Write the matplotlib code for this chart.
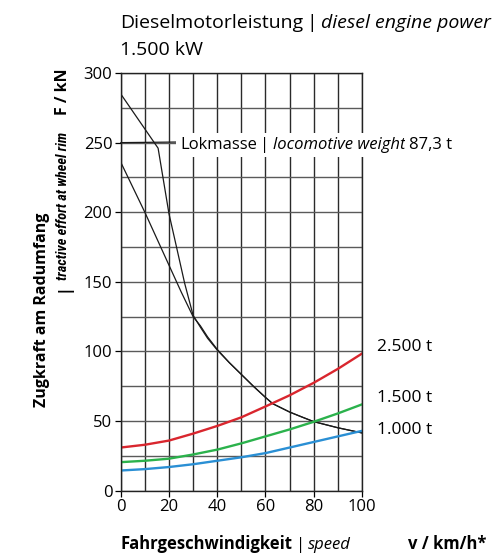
import matplotlib
matplotlib.use('Agg')
import matplotlib.pyplot as plt
from matplotlib import font_manager

plt.rcParams['font.family'] = 'Open Sans'

# Lokomotive: Zugkraft (zwei Kennlinien, laufen ab ca. 30 km/h zusammen)
loco_a_v = [0, 15.5, 20, 23, 26.5, 30, 33, 36, 40, 45, 50, 55, 60, 63, 70, 75, 80, 90, 100]
loco_a_f = [285, 246, 199, 176, 149, 126, 117.5, 109.5, 101, 92, 83.5, 75, 67, 62.5, 56.5, 53, 49.6, 45.2, 41.5]
loco_b_v = [0, 10, 20, 25, 30, 33, 36, 40, 45, 50, 55, 60, 63, 70, 75, 80, 90, 100]
loco_b_f = [236, 200, 162, 143, 125, 118.5, 110.5, 101.5, 92, 83.5, 75, 67, 62.5, 56.5, 53, 49.6, 45.2, 41.5]

# Zugwiderstand je Zuggewicht
speed = [0, 10, 20, 30, 40, 50, 60, 70, 80, 90, 100]
res_2500 = [31, 33, 36, 41, 46.5, 52.7, 60.5, 68.5, 77.5, 87.5, 98.5]
res_1500 = [20.5, 21.5, 23, 26, 29.5, 34, 39, 44, 49.5, 55.5, 62]
res_1000 = [14.5, 15.5, 17, 19, 21.5, 24, 27, 31, 35, 39, 43]
train_labels = ['2.500 t', '1.500 t', '1.000 t']
label_pos = [103, 66.6, 43.8]

x_ticks = [0, 20, 40, 60, 80, 100]
y_ticks = [0, 50, 100, 150, 200, 250, 300]

# schmale Schrift fuer den kursiven Teil der y-Beschriftung
names = {f.name for f in font_manager.fontManager.ttflist}
narrow = 'Open Sans'
for cand in ['Roboto Condensed', 'Open Sans Condensed', 'Asap Condensed',
             'Archivo Narrow', 'Barlow Condensed']:
    if cand in names:
        narrow = cand
        break

W, H = 498, 553
fig = plt.figure(figsize=(W / 100, H / 100), dpi=100)
ax = fig.add_axes([120.7 / W, 62.3 / H, 241.3 / W, 417.7 / H])

ax.set_xlim(0, 100)
ax.set_ylim(0, 300)
ax.set_xticks(x_ticks)
ax.set_xticks(range(10, 100, 20), minor=True)
ax.set_yticks(y_ticks)
ax.set_yticks(range(25, 300, 50), minor=True)
ax.tick_params(which='major', direction='out', length=4, width=0.9, labelsize=12, pad=2)
ax.tick_params(which='minor', length=0)
ax.grid(True, axis='x', which='both', color='#2a2a2a', linewidth=1.0)
ax.grid(True, axis='y', which='both', color='#5a5a5a', linewidth=1.0)
for sp in ax.spines.values():
    sp.set_linewidth(1.0)
    sp.set_color('#222222')

ax.plot(loco_a_v, loco_a_f, color='#1a1a1a', linewidth=0.9)
ax.plot(loco_b_v, loco_b_f, color='#1a1a1a', linewidth=0.9)
ax.plot(speed, res_2500, color='#d9262e', linewidth=1.7)
ax.plot(speed, res_1500, color='#2bb24c', linewidth=1.7)
ax.plot(speed, res_1000, color='#2a8fd4', linewidth=1.7)

for lab, yp in zip(train_labels, label_pos):
    ax.text(106.1, yp, lab, fontsize=12.5, va='center', ha='left', clip_on=False)

renderer = fig.canvas.get_renderer()
space = 3.5


def rich(parts, x, y, vertical=False, size=12.5, bbox=None):
    # parts: (text, style, weight[, family, size]); x, y in figure pixels
    for p in parts:
        s, style, weight = p[:3]
        fam = p[3] if len(p) > 3 else 'Open Sans'
        sz = p[4] if len(p) > 4 else size
        t = fig.text(x / W, y / H, s, fontsize=sz, style=style, weight=weight,
                     family=fam, rotation=90 if vertical else 0,
                     rotation_mode='anchor', ha='left', va='baseline',
                     bbox=bbox, zorder=5)
        bb = t.get_window_extent(renderer)
        if vertical:
            y += bb.height + space
        else:
            x += bb.width + space
    return x, y


def fit_size(s, family, style, weight, target, size=12.0):
    t = fig.text(0, 0, s, fontsize=size, family=family, style=style, weight=weight)
    w = t.get_window_extent(renderer).width
    t.remove()
    return max(min(size * target / w, 11.5), 9.0)


rich([('Dieselmotorleistung', 'normal', 'normal'), ('|', 'normal', 'normal'),
      ('diesel engine power', 'italic', 'normal')], 120, H - 27.5, size=14)
rich([('1.500 kW', 'normal', 'normal')], 120, H - 55, size=14)

rich([('Fahrgeschwindigkeit', 'normal', 'bold'), ('|', 'normal', 'normal'),
      ('speed', 'italic', 'normal')], 120, H - 549, size=12)
rich([('v / km/h*', 'normal', 'bold')], 408, H - 549, size=12)

rich([('Zugkraft am Radumfang', 'normal', 'bold')], 46, H - 407, vertical=True, size=11.5)
it_size = fit_size('tractive effort at wheel rim', narrow, 'italic', 'bold', 148)
rich([('|', 'normal', 'bold'),
      ('tractive effort at wheel rim', 'italic', 'bold', narrow, it_size)],
     67, H - 292, vertical=True, size=11.5)
rich([('F / kN', 'normal', 'bold')], 67, H - 115, vertical=True, size=11.5)

# Lokmasse-Beschriftung mit Hinweislinie zur y-Achse
lok_x, lok_y = 180, H - 149
ax.annotate('', xy=(0, 250), xycoords='data', xytext=(lok_x, H - 142),
            textcoords='figure pixels',
            arrowprops=dict(arrowstyle='-', color='#1a1a1a', lw=0.9,
                            shrinkA=0, shrinkB=0),
            annotation_clip=False)
white = dict(boxstyle='square,pad=0.25', fc='white', ec='none')
rich([('Lokmasse', 'normal', 'normal'), ('|', 'normal', 'normal'),
      ('locomotive weight', 'italic', 'normal'), ('87,3 t', 'normal', 'normal')],
     lok_x, lok_y, size=12, bbox=white)

fig.savefig('out.png', dpi=100)
